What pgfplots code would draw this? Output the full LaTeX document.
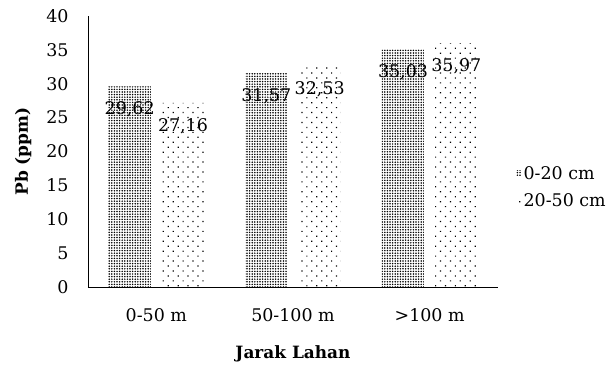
\documentclass[border=0pt]{standalone}
\usepackage{pgfplots}
\pgfplotsset{compat=1.18}
\usepackage{fontspec}
\setmainfont{DejaVu Serif}
\usetikzlibrary{patterns.meta}
\begin{document}
\begin{tikzpicture}
\begin{axis}[
  scale only axis,
  width=410bp, height=271bp,
  xmin=-0.5, xmax=2.5,
  ymin=0, ymax=40,
  ytick={0,5,...,40},
  xtick={0,1,2},
  xticklabels={0-50 m, 50-100 m, >100 m},
  axis x line=bottom, axis y line=left,
  axis line style={-, thick},
  major tick length=0pt,
  tick label style={font=\fontsize{17.5}{20}\selectfont},
  yticklabel style={xshift=-16bp},
  xticklabel style={yshift=-18bp},
  /pgf/number format/assume math mode=true,
  ylabel={\textbf{Pb (ppm)}},
  xlabel={\textbf{Jarak Lahan}},
  label style={font=\fontsize{17}{20}\selectfont},
  ylabel style={yshift=8bp},
  xlabel style={yshift=-17bp},
  ybar, bar width=0.31,
  clip=false,
  nodes near coords,
  every node near coord/.append style={anchor=center, yshift=-23bp, font=\fontsize{17.5}{20}\selectfont,
     /pgf/number format/.cd, fixed, fixed zerofill, precision=2, use comma, assume math mode=true},
  legend style={draw=none, at={(rel axis cs:1.045,0.369)}, anchor=west, font=\fontsize{17.5}{20}\selectfont,
     row sep=9bp, inner sep=0pt},
  legend image code/.code={\draw[#1, draw=none] (0bp,-2.5bp) rectangle (5bp,2.5bp);},
  legend cell align=left,
]
\addplot[draw=none, pattern={Dots[distance=2.6bp, radius=0.85bp]}, bar shift=-0.195]
  coordinates {(0,29.62) (1,31.57) (2,35.03)};
\addplot[draw=none, pattern={Dots[distance=7bp, angle=45, radius=0.85bp]}, bar shift=0.195]
  coordinates {(0,27.16) (1,32.53) (2,35.97)};
\legend{0-20 cm, 20-50 cm}
\end{axis}
\pgfresetboundingbox
\path ([shift={(-88bp,-78bp)}]current axis.south west) rectangle ([shift={(110bp,16bp)}]current axis.north east);
\end{tikzpicture}
\end{document}
